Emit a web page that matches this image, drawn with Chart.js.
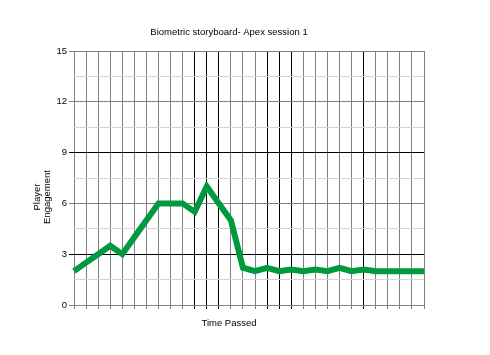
<!DOCTYPE html>
<html>
<head>
<meta charset="utf-8">
<script src="https://cdn.jsdelivr.net/npm/chart.js@4.4.1/dist/chart.umd.min.js"></script>
<style>
  html, body { margin: 0; padding: 0; background: #fff; }
  #wrap { width: 490px; height: 355px; }
</style>
</head>
<body>
<div id="wrap"><canvas id="chart" width="490" height="355"></canvas></div>
<script>
// Biometric storyboard data
const chartTitle = 'Biometric storyboard- Apex session 1';
const xAxisTitle = 'Time Passed';
const yAxisTitle = ['Player', 'Engagement'];

const timeSteps = ['1', '2', '3', '4', '5', '6', '7', '8', '9', '10',
    '11', '12', '13', '14', '15', '16', '17', '18', '19', '20',
    '21', '22', '23', '24', '25', '26', '27', '28', '29', '30'];
const engagement = [2, 2.5, 3, 3.5, 3, 4, 5, 6, 6, 6,
    5.5, 7, 6, 5, 2.2, 2, 2.2, 2, 2.1, 2,
    2.1, 2, 2.2, 2, 2.1, 2, 2, 2, 2, 2];
// time steps marked with a heavy line
const markedSteps = [10, 11, 12, 16, 17, 18, 24];

const yMin = 0;
const yMax = 15;
const yStep = 1.5;
const yLabelStep = 3;
const yHeavy = [3, 9];

const GRAY = '#808080';
const LIGHT = '#d4d4d4';
const BLACK = '#000000';
const FONT = "'Liberation Sans', Arial, sans-serif";

// draws the title and axis captions
const captions = {
    id: 'captions',
    afterDraw(chart) {
        const { ctx, chartArea } = chart;
        ctx.save();
        ctx.fillStyle = '#000';
        ctx.textAlign = 'center';
        ctx.textBaseline = 'middle';
        ctx.font = '9.5px ' + FONT;
        ctx.fillText(chartTitle, 229, 32);
        ctx.fillText(xAxisTitle, 229, 323);
        ctx.translate(42, 197);
        ctx.rotate(-Math.PI / 2);
        ctx.fillText(yAxisTitle[0], 0, -5);
        ctx.fillText(yAxisTitle[1], 0, 5.5);
        ctx.restore();
    }
};

new Chart(document.getElementById('chart'), {
    type: 'line',
    data: {
        labels: timeSteps,
        datasets: [{
            data: engagement,
            borderColor: '#009a3e',
            borderWidth: 6,
            pointRadius: 0,
            tension: 0,
            fill: false
        }]
    },
    options: {
        responsive: false,
        animation: false,
        layout: { padding: { top: 51, right: 66, left: 0, bottom: 0 } },
        plugins: {
            legend: { display: false },
            tooltip: { enabled: false }
        },
        scales: {
            x: {
                offset: false,
                border: { display: false },
                grid: {
                    color: (c) => markedSteps.includes(c.index) ? BLACK : GRAY,
                    tickColor: (c) => markedSteps.includes(c.index) ? BLACK : GRAY,
                    tickLength: 4,
                    lineWidth: 1
                },
                ticks: {
                    autoSkip: false,
                    maxRotation: 0,
                    callback: () => ''
                },
                afterFit: (s) => { s.height = 50; }
            },
            y: {
                min: yMin,
                max: yMax,
                border: { display: false },
                grid: {
                    color: (c) => {
                        const v = c.tick.value;
                        if (yHeavy.includes(v)) return BLACK;
                        return v % yLabelStep === 0 ? GRAY : LIGHT;
                    },
                    tickColor: (c) => {
                        const v = c.tick.value;
                        if (v % yLabelStep !== 0) return 'rgba(0,0,0,0)';
                        return yHeavy.includes(v) ? BLACK : GRAY;
                    },
                    tickLength: 5,
                    lineWidth: 1
                },
                ticks: {
                    stepSize: yStep,
                    padding: 2,
                    color: '#000',
                    font: { family: FONT, size: 9.5 },
                    callback: (v) => v % yLabelStep === 0 ? v : ''
                },
                afterFit: (s) => { s.width = 74; }
            }
        }
    },
    plugins: [captions]
});
</script>
</body>
</html>
